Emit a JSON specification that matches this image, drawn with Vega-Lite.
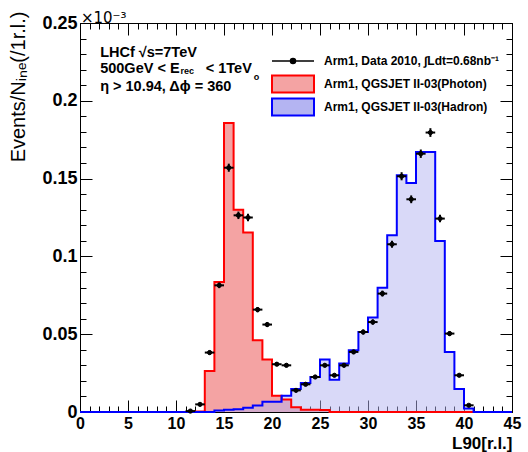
{
  "$schema": "https://vega.github.io/schema/vega-lite/v6.json",
  "width": 432,
  "height": 389,
  "autosize": {"type": "none"},
  "padding": {"left": 80, "top": 23, "right": 16, "bottom": 40},
  "background": "white",
  "config": {
    "view": {"stroke": null},
    "axis": {"grid": false, "domainColor": "black", "tickColor": "black", "domainWidth": 1, "tickWidth": 1, "labelColor": "black", "labelFont": "Liberation Sans", "labelFontWeight": "bold", "labelFontSize": 18, "labelFlush": false, "labelOverlap": false, "zindex": 2, "titleColor": "black"},
    "legend": {"labelFont": "Liberation Sans", "labelFontWeight": "bold", "labelFontSize": 12, "labelColor": "black", "labelLimit": 400, "padding": 0, "labelOffset": 9, "symbolSize": 1764, "orient": "none"}
  },
  "datasets": {
    "photon": [
      {"x": 0, "y": 0, "series": "Photon"}, {"x": 1, "y": 0, "series": "Photon"}, {"x": 2, "y": 0, "series": "Photon"}, {"x": 3, "y": 0, "series": "Photon"}, {"x": 4, "y": 0, "series": "Photon"}, {"x": 5, "y": 0, "series": "Photon"}, {"x": 6, "y": 0, "series": "Photon"}, {"x": 7, "y": 0, "series": "Photon"}, {"x": 8, "y": 0, "series": "Photon"}, {"x": 9, "y": 0, "series": "Photon"}, {"x": 10, "y": 0, "series": "Photon"}, {"x": 11, "y": 0, "series": "Photon"},
      {"x": 12, "y": 0.0004, "series": "Photon"}, {"x": 13, "y": 0.0264, "series": "Photon"}, {"x": 14, "y": 0.0835, "series": "Photon"}, {"x": 15, "y": 0.1857, "series": "Photon"}, {"x": 16, "y": 0.13, "series": "Photon"}, {"x": 17, "y": 0.1153, "series": "Photon"}, {"x": 18, "y": 0.0461, "series": "Photon"}, {"x": 19, "y": 0.0337, "series": "Photon"}, {"x": 20, "y": 0.0105, "series": "Photon"}, {"x": 21, "y": 0.008, "series": "Photon"}, {"x": 22, "y": 0.003, "series": "Photon"}, {"x": 23, "y": 0.0015, "series": "Photon"}, {"x": 24, "y": 0.0015, "series": "Photon"}, {"x": 25, "y": 0.0013, "series": "Photon"},
      {"x": 26, "y": 0, "series": "Photon"}, {"x": 27, "y": 0, "series": "Photon"}, {"x": 28, "y": 0, "series": "Photon"}, {"x": 29, "y": 0, "series": "Photon"}, {"x": 30, "y": 0, "series": "Photon"}, {"x": 31, "y": 0, "series": "Photon"}, {"x": 32, "y": 0, "series": "Photon"}, {"x": 33, "y": 0, "series": "Photon"}, {"x": 34, "y": 0, "series": "Photon"}, {"x": 35, "y": 0, "series": "Photon"}, {"x": 36, "y": 0, "series": "Photon"}, {"x": 37, "y": 0, "series": "Photon"}, {"x": 38, "y": 0, "series": "Photon"}, {"x": 39, "y": 0, "series": "Photon"}, {"x": 40, "y": 0, "series": "Photon"}, {"x": 41, "y": 0, "series": "Photon"}, {"x": 42, "y": 0, "series": "Photon"}, {"x": 43, "y": 0, "series": "Photon"}, {"x": 44, "y": 0, "series": "Photon"}, {"x": 45, "y": 0, "series": "Photon"}
    ],
    "hadron": [
      {"x": 0, "y": 0, "series": "Hadron"}, {"x": 1, "y": 0, "series": "Hadron"}, {"x": 2, "y": 0, "series": "Hadron"}, {"x": 3, "y": 0, "series": "Hadron"}, {"x": 4, "y": 0, "series": "Hadron"}, {"x": 5, "y": 0, "series": "Hadron"}, {"x": 6, "y": 0, "series": "Hadron"}, {"x": 7, "y": 0, "series": "Hadron"}, {"x": 8, "y": 0, "series": "Hadron"}, {"x": 9, "y": 0, "series": "Hadron"}, {"x": 10, "y": 0, "series": "Hadron"}, {"x": 11, "y": 0, "series": "Hadron"}, {"x": 12, "y": 0, "series": "Hadron"}, {"x": 13, "y": 0, "series": "Hadron"},
      {"x": 14, "y": 0.001, "series": "Hadron"}, {"x": 15, "y": 0.0015, "series": "Hadron"}, {"x": 16, "y": 0.0017, "series": "Hadron"}, {"x": 17, "y": 0.0028, "series": "Hadron"}, {"x": 18, "y": 0.0041, "series": "Hadron"}, {"x": 19, "y": 0.0066, "series": "Hadron"}, {"x": 20, "y": 0.0066, "series": "Hadron"}, {"x": 21, "y": 0.0104, "series": "Hadron"}, {"x": 22, "y": 0.0148, "series": "Hadron"}, {"x": 23, "y": 0.0186, "series": "Hadron"}, {"x": 24, "y": 0.0225, "series": "Hadron"}, {"x": 25, "y": 0.0337, "series": "Hadron"}, {"x": 26, "y": 0.0208, "series": "Hadron"}, {"x": 27, "y": 0.0311, "series": "Hadron"}, {"x": 28, "y": 0.0397, "series": "Hadron"}, {"x": 29, "y": 0.0514, "series": "Hadron"}, {"x": 30, "y": 0.0607, "series": "Hadron"}, {"x": 31, "y": 0.0799, "series": "Hadron"}, {"x": 32, "y": 0.1136, "series": "Hadron"}, {"x": 33, "y": 0.1521, "series": "Hadron"}, {"x": 34, "y": 0.1472, "series": "Hadron"}, {"x": 35, "y": 0.1671, "series": "Hadron"}, {"x": 36, "y": 0.1671, "series": "Hadron"}, {"x": 37, "y": 0.1099, "series": "Hadron"}, {"x": 38, "y": 0.0386, "series": "Hadron"}, {"x": 39, "y": 0.0148, "series": "Hadron"}, {"x": 40, "y": 0.0022, "series": "Hadron"},
      {"x": 41, "y": 0, "series": "Hadron"}, {"x": 42, "y": 0, "series": "Hadron"}, {"x": 43, "y": 0, "series": "Hadron"}, {"x": 44, "y": 0, "series": "Hadron"}, {"x": 45, "y": 0, "series": "Hadron"}
    ],
    "points": [
      {"x": 11.5, "y": 0.0006, "ex": 0.5, "ey": 0.0004, "series": "Data"},
      {"x": 12.5, "y": 0.0049, "ex": 0.5, "ey": 0.0008, "series": "Data"},
      {"x": 13.5, "y": 0.0382, "ex": 0.5, "ey": 0.0014, "series": "Data"},
      {"x": 14.5, "y": 0.0814, "ex": 0.5, "ey": 0.0018, "series": "Data"},
      {"x": 15.5, "y": 0.157, "ex": 0.5, "ey": 0.0026, "series": "Data"},
      {"x": 16.5, "y": 0.1264, "ex": 0.5, "ey": 0.0024, "series": "Data"},
      {"x": 17.5, "y": 0.125, "ex": 0.5, "ey": 0.0024, "series": "Data"},
      {"x": 18.5, "y": 0.0658, "ex": 0.5, "ey": 0.0017, "series": "Data"},
      {"x": 19.5, "y": 0.0562, "ex": 0.5, "ey": 0.0016, "series": "Data"},
      {"x": 20.5, "y": 0.0307, "ex": 0.5, "ey": 0.0012, "series": "Data"},
      {"x": 21.5, "y": 0.03, "ex": 0.5, "ey": 0.0012, "series": "Data"},
      {"x": 22.5, "y": 0.0139, "ex": 0.5, "ey": 0.0009, "series": "Data"},
      {"x": 23.5, "y": 0.0178, "ex": 0.5, "ey": 0.001, "series": "Data"},
      {"x": 24.5, "y": 0.0225, "ex": 0.5, "ey": 0.0011, "series": "Data"},
      {"x": 25.5, "y": 0.03, "ex": 0.5, "ey": 0.0012, "series": "Data"},
      {"x": 26.5, "y": 0.0236, "ex": 0.5, "ey": 0.0011, "series": "Data"},
      {"x": 27.5, "y": 0.03, "ex": 0.5, "ey": 0.0012, "series": "Data"},
      {"x": 28.5, "y": 0.0386, "ex": 0.5, "ey": 0.0014, "series": "Data"},
      {"x": 29.5, "y": 0.0514, "ex": 0.5, "ey": 0.0016, "series": "Data"},
      {"x": 30.5, "y": 0.0578, "ex": 0.5, "ey": 0.0017, "series": "Data"},
      {"x": 31.5, "y": 0.0761, "ex": 0.5, "ey": 0.0019, "series": "Data"},
      {"x": 32.5, "y": 0.1078, "ex": 0.5, "ey": 0.0022, "series": "Data"},
      {"x": 33.5, "y": 0.1515, "ex": 0.5, "ey": 0.0026, "series": "Data"},
      {"x": 34.5, "y": 0.1367, "ex": 0.5, "ey": 0.0025, "series": "Data"},
      {"x": 35.5, "y": 0.166, "ex": 0.5, "ey": 0.0027, "series": "Data"},
      {"x": 36.5, "y": 0.1796, "ex": 0.5, "ey": 0.0028, "series": "Data"},
      {"x": 37.5, "y": 0.1243, "ex": 0.5, "ey": 0.0024, "series": "Data"},
      {"x": 38.5, "y": 0.0504, "ex": 0.5, "ey": 0.0016, "series": "Data"},
      {"x": 39.5, "y": 0.0236, "ex": 0.5, "ey": 0.0011, "series": "Data"},
      {"x": 40.5, "y": 0.0043, "ex": 0.5, "ey": 0.0006, "series": "Data"}
    ],
    "notes": [
      {"x": 2.1, "y": 0.2282, "text": "LHCf √s=7TeV"},
      {"x": 2.1, "y": 0.2177, "text": "500GeV < E"},
      {"x": 13.1, "y": 0.2177, "text": "< 1TeV"},
      {"x": 2.1, "y": 0.2066, "text": "η > 10.94, Δϕ = 360"}
    ],
    "subs": [
      {"x": 10.47, "y": 0.2171, "text": "rec"},
      {"x": 18.1, "y": 0.2135, "text": "o"}
    ],
    "scale_note": [
      {"x": 0.1, "y": 0.2503, "text": "×10⁻³"}
    ]
  },
  "resolve": {"scale": {"fill": "independent"}, "legend": {"fill": "independent"}, "axis": {"x": "independent", "y": "independent"}},
  "layer": [
    {
      "data": {"name": "photon"},
      "mark": {"type": "area", "interpolate": "step-after"},
      "encoding": {
        "x": {"field": "x", "type": "quantitative", "scale": {"domain": [0, 45], "nice": false, "zero": false},
          "axis": {"orient": "bottom", "values": [0, 5, 10, 15, 20, 25, 30, 35, 40, 45], "format": "d", "tickSize": -12, "labelPadding": 15, "labelFontSize": 16,
            "title": "L90[r.l.]", "titleFont": "Liberation Sans", "titleFontWeight": "bold", "titleFontSize": 17, "titleAlign": "right", "titleX": 432, "titleY": 36, "titleBaseline": "alphabetic"}},
        "y": {"field": "y", "type": "quantitative", "scale": {"domain": [0, 0.25], "nice": false},
          "axis": {"orient": "left", "values": [0, 0.05, 0.1, 0.15, 0.2, 0.25], "format": "~g", "tickSize": -12, "labelPadding": 15,
            "title": "Events/Nᵢₙₑ(/1r.l.)", "titleFont": "Liberation Sans", "titleFontWeight": "normal", "titleFontSize": 20, "titleAngle": -90, "titleAlign": "right", "titleX": -62, "titleY": -12, "titleBaseline": "middle"}},
        "fill": {"field": "series", "type": "nominal", "scale": {"domain": ["Photon"], "range": ["#f4a3a3"]},
          "legend": {"title": null, "legendX": 191, "legendY": 39, "symbolType": "M-1,-0.4H1V0.4H-1Z", "labelExpr": "'Arm1, QGSJET II-03(Photon)'",
            "encode": {"symbols": {"update": {"stroke": {"value": "#ff0000"}, "strokeWidth": {"value": 2}, "fill": {"value": "#f4a3a3"}, "opacity": {"value": 1}}}}}}
      }
    },
    {
      "data": {"name": "hadron"},
      "mark": {"type": "area", "interpolate": "step-after", "fillOpacity": 0.5},
      "encoding": {
        "x": {"field": "x", "type": "quantitative", "axis": {"orient": "top", "values": [0, 5, 10, 15, 20, 25, 30, 35, 40, 45], "tickSize": -12, "labels": false, "title": null}},
        "y": {"field": "y", "type": "quantitative", "axis": {"orient": "right", "values": [0, 0.05, 0.1, 0.15, 0.2, 0.25], "tickSize": -12, "labels": false, "title": null}},
        "fill": {"field": "series", "type": "nominal", "scale": {"domain": ["Hadron"], "range": ["#b4b4f2"]},
          "legend": {"title": null, "legendX": 191, "legendY": 62, "symbolType": "M-1,-0.4H1V0.4H-1Z", "labelExpr": "'Arm1, QGSJET II-03(Hadron)'",
            "encode": {"symbols": {"update": {"stroke": {"value": "#0000ff"}, "strokeWidth": {"value": 2}, "fill": {"value": "#d9d9f8"}, "opacity": {"value": 1}}}}}}
      }
    },
    {
      "data": {"name": "photon"},
      "mark": {"type": "line", "interpolate": "step-after", "color": "#ff0000", "strokeWidth": 2},
      "encoding": {
        "x": {"field": "x", "type": "quantitative", "axis": {"orient": "bottom", "values": [0,1,2,3,4,5,6,7,8,9,10,11,12,13,14,15,16,17,18,19,20,21,22,23,24,25,26,27,28,29,30,31,32,33,34,35,36,37,38,39,40,41,42,43,44,45], "tickSize": -6, "labels": false, "domain": false, "title": null}},
        "y": {"field": "y", "type": "quantitative", "axis": {"orient": "left", "values": [0,0.01,0.02,0.03,0.04,0.05,0.06,0.07,0.08,0.09,0.1,0.11,0.12,0.13,0.14,0.15,0.16,0.17,0.18,0.19,0.2,0.21,0.22,0.23,0.24,0.25], "tickSize": -6, "labels": false, "domain": false, "title": null}}
      }
    },
    {
      "data": {"name": "hadron"},
      "mark": {"type": "line", "interpolate": "step-after", "color": "#0000ff", "strokeWidth": 2},
      "encoding": {
        "x": {"field": "x", "type": "quantitative", "axis": {"orient": "top", "values": [0,1,2,3,4,5,6,7,8,9,10,11,12,13,14,15,16,17,18,19,20,21,22,23,24,25,26,27,28,29,30,31,32,33,34,35,36,37,38,39,40,41,42,43,44,45], "tickSize": -6, "labels": false, "domain": false, "title": null}},
        "y": {"field": "y", "type": "quantitative", "axis": {"orient": "right", "values": [0,0.01,0.02,0.03,0.04,0.05,0.06,0.07,0.08,0.09,0.1,0.11,0.12,0.13,0.14,0.15,0.16,0.17,0.18,0.19,0.2,0.21,0.22,0.23,0.24,0.25], "tickSize": -6, "labels": false, "domain": false, "title": null}}
      }
    },
    {
      "data": {"name": "points"},
      "mark": {"type": "errorbar", "color": "black", "thickness": 2},
      "encoding": {
        "x": {"field": "x", "type": "quantitative", "axis": null},
        "xError": {"field": "ex"},
        "y": {"field": "y", "type": "quantitative", "axis": null}
      }
    },
    {
      "data": {"name": "points"},
      "mark": {"type": "errorbar", "color": "black", "thickness": 2},
      "encoding": {
        "x": {"field": "x", "type": "quantitative", "axis": null},
        "y": {"field": "y", "type": "quantitative", "axis": null},
        "yError": {"field": "ey"}
      }
    },
    {
      "data": {"name": "points"},
      "mark": {"type": "point", "filled": false, "fill": "black", "fillOpacity": 1, "strokeWidth": 1, "size": 18, "opacity": 1},
      "encoding": {
        "x": {"field": "x", "type": "quantitative", "axis": null},
        "y": {"field": "y", "type": "quantitative", "axis": null},
        "color": {"field": "series", "type": "nominal", "scale": {"domain": ["Data"], "range": ["black"]},
          "legend": {"title": null, "legendX": 191, "legendY": 16, "symbolType": "M-1,0H1M0.12,0A0.12,0.12,0,1,1,-0.12,0A0.12,0.12,0,1,1,0.12,0Z", "symbolStrokeWidth": 1.5, "labelExpr": "'Arm1, Data 2010, ∫Ldt=0.68nb⁻¹'"}}
      }
    },
    {
      "data": {"name": "notes"},
      "mark": {"type": "text", "align": "left", "baseline": "alphabetic", "font": "Liberation Sans", "fontWeight": "bold", "fontSize": 14.5, "color": "black"},
      "encoding": {
        "x": {"field": "x", "type": "quantitative", "axis": null},
        "y": {"field": "y", "type": "quantitative", "axis": null},
        "text": {"field": "text"}
      }
    },
    {
      "data": {"name": "subs"},
      "mark": {"type": "text", "align": "left", "baseline": "alphabetic", "font": "Liberation Sans", "fontWeight": "bold", "fontSize": 9, "color": "black"},
      "encoding": {
        "x": {"field": "x", "type": "quantitative", "axis": null},
        "y": {"field": "y", "type": "quantitative", "axis": null},
        "text": {"field": "text"}
      }
    },
    {
      "data": {"name": "scale_note"},
      "mark": {"type": "text", "align": "left", "baseline": "alphabetic", "font": "DejaVu Sans", "fontSize": 15, "color": "black"},
      "encoding": {
        "x": {"field": "x", "type": "quantitative", "axis": null},
        "y": {"field": "y", "type": "quantitative", "axis": null},
        "text": {"field": "text"}
      }
    }
  ]
}
